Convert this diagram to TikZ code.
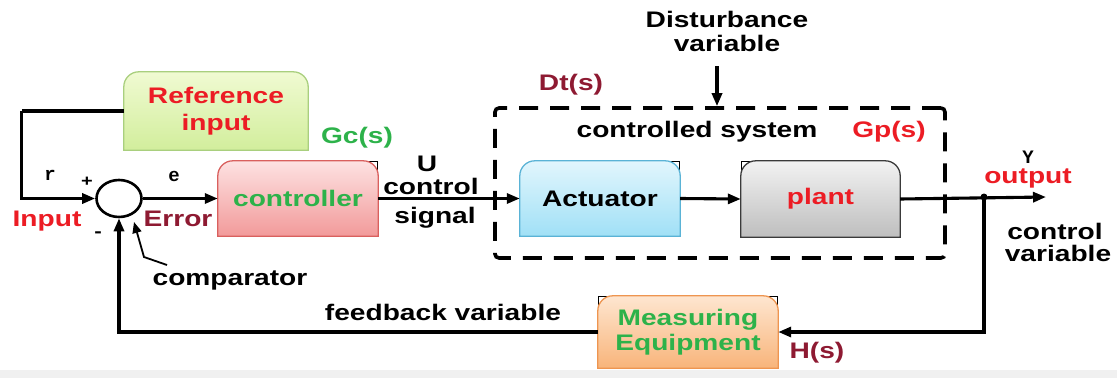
\documentclass[tikz,border=0pt]{standalone}
\usepackage{fontspec}
\usetikzlibrary{arrows.meta,shapes.geometric,backgrounds}
\newfontfamily\lab{Liberation Sans}[FakeStretch=1.25]
\newfontfamily\monofam{Liberation Mono}
\definecolor{tred}{HTML}{EC1C24}
\definecolor{dred}{HTML}{8E1A32}
\definecolor{tgreen}{HTML}{2DB24A}
\definecolor{reftop}{HTML}{F0FAD2}
\definecolor{refbot}{HTML}{D2EE9C}
\definecolor{refbd}{HTML}{A9CF7E}
\definecolor{ctltop}{HTML}{FDE2E2}
\definecolor{ctlbot}{HTML}{F29A9A}
\definecolor{ctlbd}{HTML}{D9605E}
\definecolor{acttop}{HTML}{E2F6FD}
\definecolor{actbot}{HTML}{A0E0F6}
\definecolor{actbd}{HTML}{5AB3D6}
\definecolor{pltop}{HTML}{F2F2F2}
\definecolor{plbot}{HTML}{BEBEBE}
\definecolor{plbd}{HTML}{3A3A3A}
\definecolor{metop}{HTML}{FEE6D0}
\definecolor{mebot}{HTML}{F8B47A}
\definecolor{mebd}{HTML}{EE9550}
\newcommand\blockbg[4]{%
  \draw[line width=1.3pt,draw=#4,top color=#2,bottom color=#3]
    (#1.south west) -- ([yshift=-15pt]#1.north west)
      .. controls ([yshift=-6.7pt]#1.north west) and ([xshift=6.7pt]#1.north west) .. ([xshift=15pt]#1.north west)
    -- ([xshift=-15pt]#1.north east)
      .. controls ([xshift=-6.7pt]#1.north east) and ([yshift=-6.7pt]#1.north east) .. ([yshift=-15pt]#1.north east)
    -- (#1.south east) -- cycle;}
\newcommand\peekne[1]{\draw[line width=1.6pt,black] ([xshift=-13pt,yshift=-0.6pt]#1.north east) -- ([xshift=-0.6pt,yshift=-0.6pt]#1.north east) -- ([xshift=-0.6pt,yshift=-15pt]#1.north east);}
\newcommand\peeknw[1]{\draw[line width=1.6pt,black] ([xshift=13pt,yshift=-0.6pt]#1.north west) -- ([xshift=0.6pt,yshift=-0.6pt]#1.north west) -- ([xshift=0.6pt,yshift=-15pt]#1.north west);}
\tikzset{
  lbl/.style={font=\lab\bfseries\fontsize{22.5}{24}\selectfont,inner sep=0pt,align=center},
  small/.style={font=\monofam\bfseries\fontsize{19}{19}\selectfont,inner sep=0pt},
  blk/.style={lbl,minimum width=160pt,minimum height=75pt},
  wire/.style={line width=3.1pt,line join=miter},
  arr/.style={wire,-{Triangle[length=13pt,width=10pt]}}
}
\begin{document}
\begin{tikzpicture}[x=1pt,y=-1pt]
\useasboundingbox (0,0) rectangle (1117,378);
\fill[black!6] (0,370) rectangle (1117,378);

% blocks
\node[blk,minimum width=184pt,minimum height=78pt,text=tred,
      font=\lab\bfseries\fontsize{22.5}{27}\selectfont] (ref) at (216,111) {Reference\\input};
\node[blk,text=tgreen] (ctrl) at (298,198.5) {controller};
\node[blk,text=black] (act) at (600,198.5) {Actuator};
\node[blk,minimum width=159pt,minimum height=76pt,text=tred] (plant) at (820.5,199) {plant};
\node[blk,minimum width=180pt,minimum height=72pt,text=tgreen,
      font=\lab\bfseries\fontsize{22.5}{25}\selectfont] (meas) at (688,332) {Measuring\\Equipment};
\node[draw,ellipse,line width=2.6pt,minimum width=45pt,minimum height=37pt,inner sep=0pt] (cmp) at (119,198.5) {};

% dashed controlled-system frame
\node[draw,dashed,line width=3.6pt,dash pattern=on 19pt off 12pt,rounded corners=4pt,
      minimum width=450pt,minimum height=150pt,inner sep=0pt] (sys) at (720,183) {};

\begin{scope}[on background layer]
  \peekne{ctrl}\peekne{act}\peeknw{plant}\peeknw{meas}\peekne{meas}
  \blockbg{ref}{reftop}{refbot}{refbd}
  \blockbg{ctrl}{ctltop}{ctlbot}{ctlbd}
  \blockbg{act}{acttop}{actbot}{actbd}
  \blockbg{plant}{pltop}{plbot}{plbd}
  \blockbg{meas}{metop}{mebot}{mebd}
\end{scope}

% labels
\node[small] (lr) at (50,175) {r};
\node[font=\lab\bfseries\fontsize{16}{16}\selectfont,inner sep=0pt] (lplus) at (87,182) {+};
\node[small] (le) at (174,176) {e};
\node[font=\lab\bfseries\fontsize{18}{18}\selectfont,inner sep=0pt] (lminus) at (98,235) {-};
\node[lbl,text=tred] (linput) at (47,221) {Input};
\node[lbl,text=dred] (lerror) at (178,219) {Error};
\node[lbl] (lcomp) at (230,280) {comparator};
\node[lbl,text=tgreen] (lgc) at (357,138) {Gc(s)};
\node[lbl] (lu) at (427,164) {U};
\node[lbl] (lctl) at (431,186) {control};
\node[lbl] (lsig) at (435,218) {signal};
\node[lbl,text=dred] (ldt) at (571,85) {Dt(s)};
\node[lbl] (ldist) at (727,31) {Disturbance\\variable};
\node[lbl] (lcs) at (697,132) {controlled system};
\node[lbl,text=tred] (lgp) at (889,132) {Gp(s)};
\node[small] (ly) at (1028,157) {Y};
\node[lbl,text=tred] (lout) at (1028,178) {output};
\node[lbl] (lcv1) at (1055,231) {control};
\node[lbl] (lcv2) at (1058,253) {variable};
\node[lbl] (lfb) at (443,312) {feedback variable};
\node[lbl,text=dred] (lh) at (817,353) {H(s)};

% connectors
\coordinate (dtop) at (717,66);
\coordinate (j) at (984,197);
\coordinate (oend) at (1046,197);
\coordinate (cstart) at (167,265);
\coordinate (cbend) at (144,257);
\coordinate (ctip) at (134,222);

\draw[wire] (ref.west) -- ++(-102,0) coordinate (inl);
\draw[arr] (inl) |- (cmp.west);
\draw[arr] (cmp.east) -- (ctrl.west);
\draw[arr] (ctrl.east) -- (act.west);
\draw[arr] (act.east) -- (plant.west);
\draw[arr] (plant.east) -- (oend);
\fill (j) circle (3.5pt);
\draw[arr] (j) |- (meas.east);
\draw[arr] (meas.west) -| (cmp.south);
\draw[arr] (dtop) -- (dtop |- sys.north);
\draw[line width=1.8pt,-{Triangle[length=11pt,width=9pt]}] (cstart) -- (cbend) -- (ctip);
\end{tikzpicture}
\end{document}
